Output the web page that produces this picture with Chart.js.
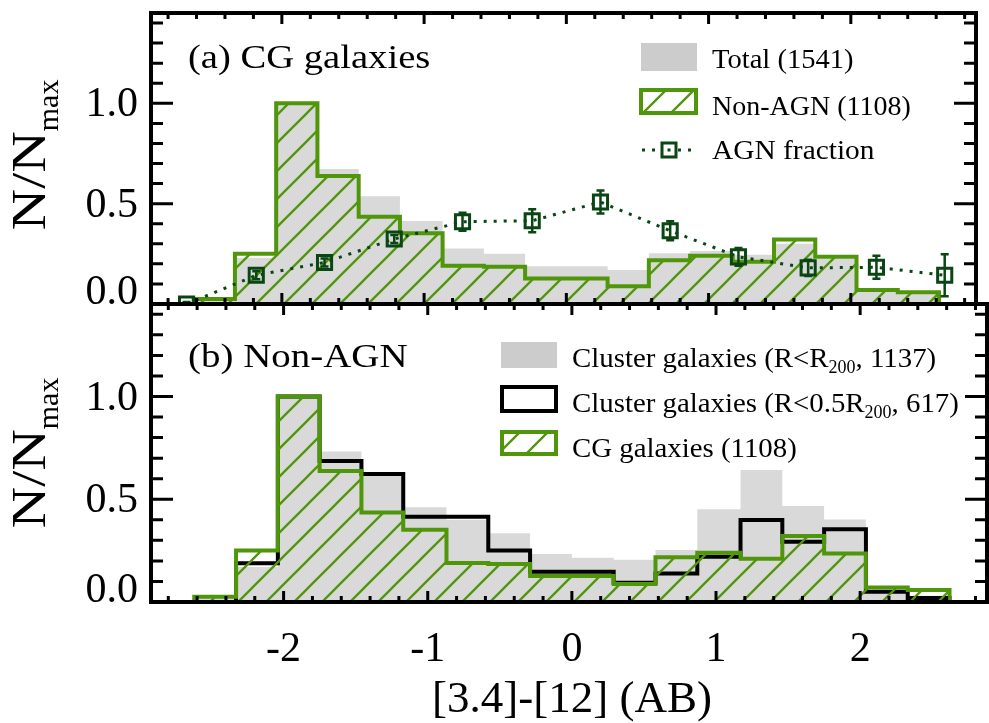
<!DOCTYPE html>
<html>
<head>
<meta charset="utf-8">
<title>[3.4]-[12] colour distributions</title>
<script src="https://cdn.jsdelivr.net/npm/chart.js@4.4.1/dist/chart.umd.min.js"></script>
<style>
  html, body { margin: 0; padding: 0; background: #ffffff; }
  #wrap { position: relative; width: 989px; height: 723px; }
  #wrap canvas { position: absolute; left: 0; top: 0; }
</style>
</head>
<body>
<div id="wrap">
  <canvas id="panelB" width="989" height="723"></canvas>
  <canvas id="panelA" width="989" height="723"></canvas>
</div>
<script>
'use strict';

// ── Histogram data (N/Nmax per colour bin) ──────────────────────────────────
var binEdges = [-2.62, -2.33, -2.04, -1.75, -1.46, -1.17, -0.87, -0.58, -0.29, 0.00,
                 0.29,  0.58,  0.87,  1.17,  1.46,  1.75,  2.04,  2.33,  2.62];

// (a) all CG galaxies (1541)
var totalCG      = [0.02, 0.23, 1.00, 0.673, 0.537, 0.414, 0.277, 0.251, 0.188,
                    0.188, 0.170, 0.253, 0.264, 0.245, 0.300, 0.225, 0.080, 0.050];
// non-AGN CG galaxies (1108), shown in both panels
var nonAgnCG     = [0.025, 0.250, 1.00, 0.638, 0.435, 0.352, 0.190, 0.185, 0.127,
                    0.127, 0.088, 0.218, 0.240, 0.211, 0.321, 0.236, 0.070, 0.058];
// (b) non-AGN cluster galaxies
var clusterR200  = [0.020, 0.170, 1.00, 0.732, 0.626, 0.461, 0.400, 0.334, 0.233,
                    0.215, 0.205, 0.253, 0.451, 0.642, 0.467, 0.402, 0.058, 0.030];
var clusterHalf  = [0.000, 0.188, 1.00, 0.686, 0.623, 0.415, 0.415, 0.250, 0.147,
                    0.147, 0.094, 0.139, 0.220, 0.399, 0.293, 0.354, 0.050, 0.020];

// AGN fraction in wider bins
var agnX    = [-2.67, -2.18, -1.70, -1.21, -0.73, -0.24, 0.24, 0.73, 1.21, 1.70, 2.18, 2.66];
var agnFrac = [0.000, 0.143, 0.207, 0.324, 0.410, 0.415, 0.508, 0.365, 0.235, 0.180, 0.183, 0.143];
var agnErr  = [0.010, 0.020, 0.020, 0.020, 0.045, 0.057, 0.057, 0.047, 0.044, 0.040, 0.057, 0.105];

var xTicks      = [-2, -1, 0, 1, 2];
var xTickLabels = ['-2', '-1', '0', '1', '2'];
var yTicks      = [0, 0.5, 1.0];
var yTickLabels = ['0.0', '0.5', '1.0'];

// ── Style ───────────────────────────────────────────────────────────────────
var GREEN    = '#4f960a';
var DKGREEN  = '#0a4614';
var GRAY     = '#d9d9d9';
var GRAY_KEY = '#cccccc';
var SERIF    = '"Liberation Serif", "Times New Roman", serif';

// diagonal "/" hatch used for the non-AGN histogram
function makeHatch(color) {
    var s = 28;
    var c = document.createElement('canvas');
    c.width = s; c.height = s;
    var g = c.getContext('2d');
    g.strokeStyle = color;
    g.lineWidth = 2.3;
    g.beginPath();
    g.moveTo(0, s); g.lineTo(s, 0);
    g.moveTo(-s / 2, s / 2); g.lineTo(s / 2, -s / 2);
    g.moveTo(s / 2, s * 1.5); g.lineTo(s * 1.5, s / 2);
    g.stroke();
    return g.createPattern(c, 'repeat');
}
var HATCH = makeHatch(GREEN);

// step outline of a histogram, closed down to zero at both ends
function histPoints(edges, vals) {
    var pts = [{ x: edges[0], y: 0 }];
    for (var i = 0; i < vals.length; i++) {
        pts.push({ x: edges[i], y: vals[i] });
    }
    pts.push({ x: edges[edges.length - 1], y: vals[vals.length - 1] });
    pts.push({ x: edges[edges.length - 1], y: 0 });
    return pts;
}

function histDataset(vals, extra) {
    var ds = {
        data: histPoints(binEdges, vals),
        stepped: true,
        pointRadius: 0,
        borderJoinStyle: 'miter',
        borderCapStyle: 'butt',
        fill: false
    };
    for (var k in extra) { ds[k] = extra[k]; }
    return ds;
}

// ── Text helpers ────────────────────────────────────────────────────────────
function txt(ctx, s, x, y, size, opts) {
    opts = opts || {};
    var sx = opts.sx || 1;
    ctx.save();
    ctx.font = size + 'px ' + SERIF;
    ctx.fillStyle = '#000';
    ctx.textBaseline = opts.baseline || 'alphabetic';
    ctx.textAlign = opts.align || 'left';
    ctx.translate(x, y);
    ctx.scale(sx, 1);
    ctx.fillText(s, 0, 0);
    var w = ctx.measureText(s).width * sx;
    ctx.restore();
    return w;
}

function textWidth(ctx, s, size, sx) {
    ctx.save();
    ctx.font = size + 'px ' + SERIF;
    var w = ctx.measureText(s).width * (sx || 1);
    ctx.restore();
    return w;
}

// runs of text with their own size / vertical shift (for subscripts)
function richText(ctx, parts, x, y) {
    for (var i = 0; i < parts.length; i++) {
        var p = parts[i];
        x += txt(ctx, p.t, x, y + (p.dy || 0), p.size, { sx: p.sx });
    }
}

function yTitle(ctx, cx, cy) {
    var parts = [{ t: 'N/N', size: 48, sx: 1.2, dy: 0 }, { t: 'max', size: 30, sx: 1.0, dy: 13 }];
    var total = 0, i;
    for (i = 0; i < parts.length; i++) { total += textWidth(ctx, parts[i].t, parts[i].size, parts[i].sx); }
    ctx.save();
    ctx.translate(cx, cy);
    ctx.rotate(-Math.PI / 2);
    richText(ctx, parts, -total / 2, 0);
    ctx.restore();
}

// ── Plugins ─────────────────────────────────────────────────────────────────
// frame, inward ticks and tick labels
function axesFrame(showXLabels) {
    return {
        id: 'axesFrame',
        afterDraw: function (chart) {
            var ctx = chart.ctx, a = chart.chartArea;
            var xs = chart.scales.x, ys = chart.scales.y;
            var i, v, p, len;
            ctx.save();
            ctx.strokeStyle = '#000';
            ctx.lineCap = 'butt';
            ctx.lineWidth = 3;
            ctx.beginPath();
            for (i = -15; i <= 15; i++) {
                v = i * 0.2;
                if (v <= xs.min || v >= xs.max) { continue; }
                p = xs.getPixelForValue(v);
                len = (i % 5 === 0) ? 11 : 6;
                ctx.moveTo(p, a.bottom); ctx.lineTo(p, a.bottom - len);
                ctx.moveTo(p, a.top);    ctx.lineTo(p, a.top + len);
            }
            for (i = 1; i < 15; i++) {
                v = i * 0.1;
                if (v >= ys.max) { continue; }
                p = ys.getPixelForValue(v);
                len = (i % 5 === 0) ? 22 : 12;
                ctx.moveTo(a.left, p);  ctx.lineTo(a.left + len, p);
                ctx.moveTo(a.right, p); ctx.lineTo(a.right - len, p);
            }
            ctx.stroke();
            ctx.lineWidth = 4;
            ctx.strokeRect(a.left, a.top, a.right - a.left, a.bottom - a.top);
            ctx.restore();

            // y tick labels; the zero label sits on top of its tick
            for (i = 0; i < yTicks.length; i++) {
                p = ys.getPixelForValue(yTicks[i]);
                if (yTicks[i] === 0) {
                    txt(ctx, yTickLabels[i], 138, p, 42, { align: 'right' });
                } else {
                    txt(ctx, yTickLabels[i], 138, p + 2, 42, { align: 'right', baseline: 'middle' });
                }
            }

            if (showXLabels) {
                for (i = 0; i < xTicks.length; i++) {
                    p = xs.getPixelForValue(xTicks[i]);
                    txt(ctx, xTickLabels[i], p, 661, 42, { align: 'center' });
                }
                txt(ctx, '[3.4]-[12] (AB)', 572, 712, 45, { align: 'center' });
            }
        }
    };
}

var agnErrorBars = {
    id: 'agnErrorBars',
    afterDatasetsDraw: function (chart) {
        var ctx = chart.ctx, a = chart.chartArea;
        var xs = chart.scales.x, ys = chart.scales.y;
        ctx.save();
        ctx.beginPath();
        ctx.rect(a.left, a.top, a.right - a.left, a.bottom - a.top);
        ctx.clip();
        ctx.strokeStyle = DKGREEN;
        ctx.lineWidth = 2.5;
        ctx.beginPath();
        for (var i = 0; i < agnX.length; i++) {
            var x  = xs.getPixelForValue(agnX[i]);
            var y1 = ys.getPixelForValue(agnFrac[i] - agnErr[i]);
            var y2 = ys.getPixelForValue(agnFrac[i] + agnErr[i]);
            ctx.moveTo(x, y1); ctx.lineTo(x, y2);
            ctx.moveTo(x - 4, y1); ctx.lineTo(x + 4, y1);
            ctx.moveTo(x - 4, y2); ctx.lineTo(x + 4, y2);
        }
        ctx.stroke();
        ctx.restore();
    }
};

function hatchKey(ctx, x, y, w, h) {
    ctx.save();
    ctx.fillStyle = HATCH;
    ctx.fillRect(x, y, w, h);
    ctx.strokeStyle = GREEN;
    ctx.lineWidth = 4;
    ctx.strokeRect(x, y, w, h);
    ctx.restore();
}

var panelAText = {
    id: 'panelAText',
    afterDraw: function (chart) {
        var ctx = chart.ctx;
        txt(ctx, '(a) CG galaxies', 188, 68, 33, { sx: 1.17 });

        ctx.save();
        ctx.fillStyle = GRAY_KEY;
        ctx.fillRect(641, 43, 56, 28);
        ctx.restore();
        hatchKey(ctx, 641, 90, 55, 23);

        ctx.save();
        ctx.strokeStyle = DKGREEN;
        ctx.lineWidth = 3;
        ctx.setLineDash([3, 7]);
        ctx.beginPath();
        ctx.moveTo(642, 150); ctx.lineTo(660, 150);
        ctx.moveTo(678, 150); ctx.lineTo(698, 150);
        ctx.stroke();
        ctx.setLineDash([]);
        ctx.lineWidth = 3;
        ctx.strokeRect(662, 143, 14, 14);
        ctx.fillStyle = DKGREEN;
        ctx.fillRect(667.5, 148.5, 3, 3);
        ctx.restore();

        txt(ctx, 'Total (1541)', 712, 68, 28, { sx: 1.02 });
        txt(ctx, 'Non-AGN (1108)', 712, 115, 28, { sx: 1.0 });
        txt(ctx, 'AGN fraction', 712, 159, 28, { sx: 1.05 });

        yTitle(ctx, 45, 155);
    }
};

var panelBText = {
    id: 'panelBText',
    afterDraw: function (chart) {
        var ctx = chart.ctx;
        txt(ctx, '(b) Non-AGN', 188, 367, 33, { sx: 1.18 });

        ctx.save();
        ctx.fillStyle = GRAY_KEY;
        ctx.fillRect(501, 342, 56, 26);
        ctx.strokeStyle = '#000';
        ctx.lineWidth = 4;
        ctx.strokeRect(502, 387, 54, 24);
        ctx.restore();
        hatchKey(ctx, 502, 432, 54, 22);

        richText(ctx, [
            { t: 'Cluster galaxies (R<R', size: 28, sx: 1.03 },
            { t: '200', size: 18, sx: 1.0, dy: 6 },
            { t: ', 1137)', size: 28, sx: 1.03 }
        ], 572, 367);
        richText(ctx, [
            { t: 'Cluster galaxies (R<0.5R', size: 28, sx: 1.03 },
            { t: '200', size: 18, sx: 1.0, dy: 6 },
            { t: ', 617)', size: 28, sx: 1.03 }
        ], 572, 412);
        txt(ctx, 'CG galaxies (1108)', 572, 457, 28, { sx: 1.03 });

        yTitle(ctx, 45, 453);
    }
};

// ── Charts ──────────────────────────────────────────────────────────────────
function baseOptions(padding) {
    return {
        responsive: false,
        animation: false,
        devicePixelRatio: 1,
        events: [],
        layout: { padding: padding },
        plugins: { legend: { display: false }, tooltip: { enabled: false } },
        scales: {
            x: { type: 'linear', min: -2.92, max: 2.88, display: false },
            y: { type: 'linear', min: 0, max: 1.45, display: false }
        }
    };
}

new Chart(document.getElementById('panelA').getContext('2d'), {
    type: 'line',
    data: {
        datasets: [
            {
                label: 'AGN fraction',
                data: agnX.map(function (x, i) { return { x: x, y: agnFrac[i] }; }),
                borderColor: DKGREEN,
                borderWidth: 3,
                borderDash: [3, 7],
                pointStyle: 'rect',
                pointRadius: 10,
                pointBorderWidth: 3,
                pointBorderColor: DKGREEN,
                pointBackgroundColor: 'rgba(0,0,0,0)',
                tension: 0,
                fill: false,
                order: 1
            },
            histDataset(nonAgnCG, {
                label: 'Non-AGN (1108)',
                borderColor: GREEN, borderWidth: 4,
                backgroundColor: HATCH, fill: 'origin', order: 2
            }),
            histDataset(totalCG, {
                label: 'Total (1541)',
                borderColor: 'rgba(0,0,0,0)', borderWidth: 1,
                backgroundColor: GRAY, fill: 'origin', order: 3
            })
        ]
    },
    options: baseOptions({ left: 151, right: 2, top: 7, bottom: 419 }),
    plugins: [agnErrorBars, axesFrame(false), panelAText]
});

new Chart(document.getElementById('panelB').getContext('2d'), {
    type: 'line',
    data: {
        datasets: [
            histDataset(nonAgnCG, {
                label: 'CG galaxies (1108)',
                borderColor: GREEN, borderWidth: 4,
                backgroundColor: HATCH, fill: 'origin', order: 1
            }),
            histDataset(clusterHalf, {
                label: 'Cluster galaxies (R<0.5R200, 617)',
                borderColor: '#000000', borderWidth: 4, order: 2
            }),
            histDataset(clusterR200, {
                label: 'Cluster galaxies (R<R200, 1137)',
                borderColor: 'rgba(0,0,0,0)', borderWidth: 1,
                backgroundColor: GRAY, fill: 'origin', order: 3
            })
        ]
    },
    options: baseOptions({ left: 151, right: 2, top: 304, bottom: 121 }),
    plugins: [axesFrame(true), panelBText]
});
</script>
</body>
</html>
